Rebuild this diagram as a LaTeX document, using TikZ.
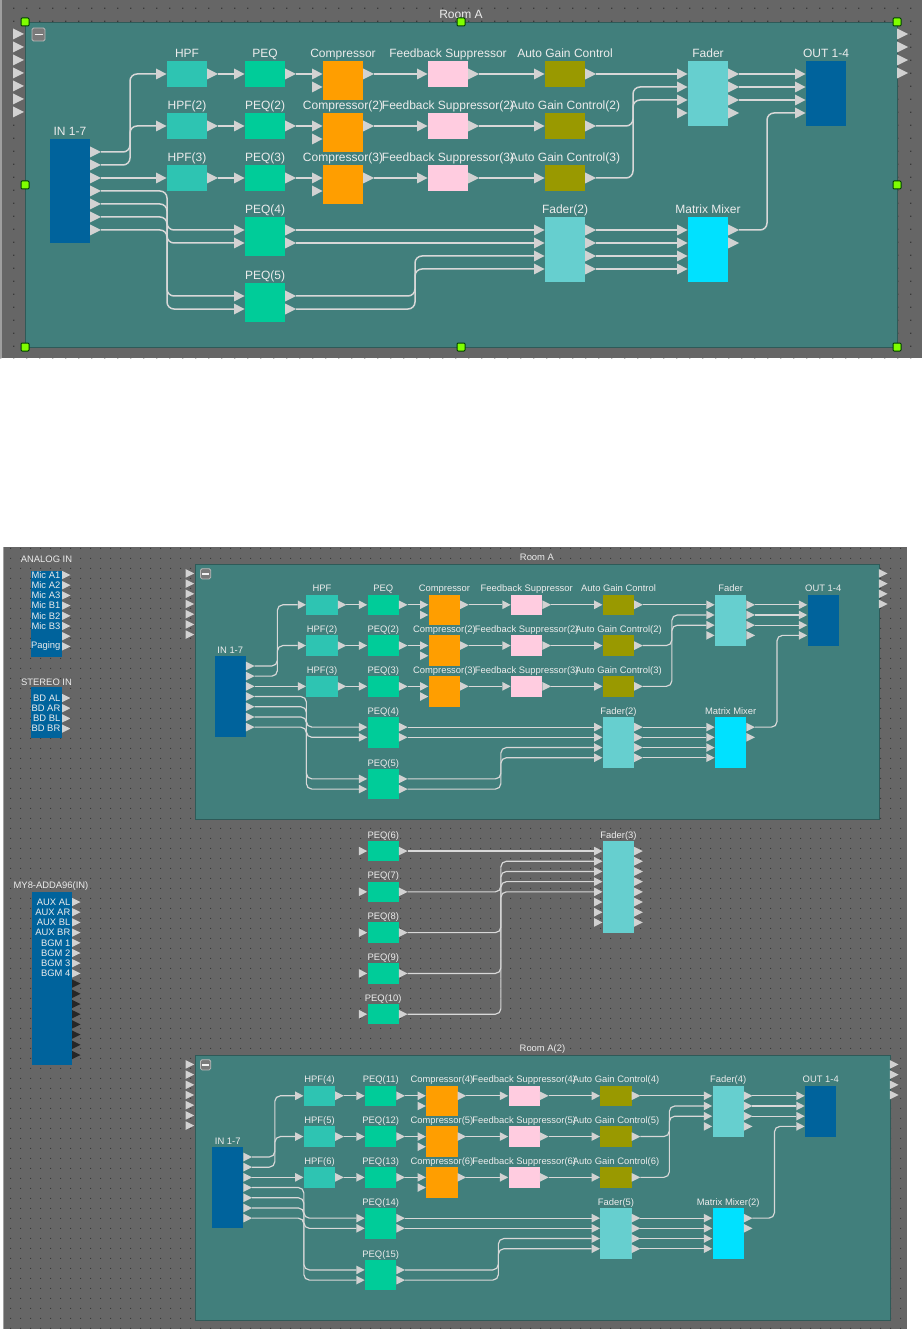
\documentclass[tikz,border=0pt]{standalone}
\usepackage{fontspec}
\setmainfont{Liberation Sans}
\usetikzlibrary{patterns}
\definecolor{bgc}{HTML}{666666}
\definecolor{dotc}{HTML}{3A3A3A}
\definecolor{roomc}{HTML}{417F7C}
\definecolor{roomedgec}{HTML}{2E5A58}
\definecolor{inblue}{HTML}{00639C}
\definecolor{hpfc}{HTML}{2EC4B2}
\definecolor{peqc}{HTML}{00CC99}
\definecolor{compc}{HTML}{FF9E00}
\definecolor{fbsc}{HTML}{FFCCE0}
\definecolor{agcc}{HTML}{999900}
\definecolor{fadc}{HTML}{66CFCF}
\definecolor{mtxc}{HTML}{00E1FF}
\definecolor{portcol}{HTML}{D2D2D2}
\definecolor{txtc}{HTML}{ECECEC}
\definecolor{wirec}{HTML}{D8D8D8}
\definecolor{handlec}{HTML}{7FFF00}
\definecolor{btnc}{HTML}{7A7A7A}
\pgfdeclarepatternformonly{gdotstop}{\pgfpointorigin}{\pgfpoint{12.75pt}{12.75pt}}{\pgfpoint{12.75pt}{12.75pt}}%
  {\pgfpathrectangle{\pgfpoint{0pt}{0pt}}{\pgfpoint{1.4pt}{1.4pt}}\pgfusepath{fill}}
\pgfdeclarepatternformonly{gdotsbot}{\pgfpointorigin}{\pgfpoint{10pt}{10pt}}{\pgfpoint{10pt}{10pt}}%
  {\pgfpathrectangle{\pgfpoint{0pt}{0pt}}{\pgfpoint{1.2pt}{1.2pt}}\pgfusepath{fill}}
\def\rs{1}
\tikzset{
  blk/.style={rectangle, inner sep=0pt, outer sep=0pt, minimum width=40, anchor=north west},
  lbl/.style={font=\fontsize{12}{13}\selectfont, text=txtc, inner sep=0.6pt, text height=8.8pt, text depth=2.6pt},
  iolbl/.style={font=\fontsize{9.4}{10}\selectfont, text=txtc, inner sep=0pt},
  wire/.style={draw=wirec, line width={\rs*1.5pt}, rounded corners={\rs*7pt}},
  porttri/.style={fill=portcol},
  blacktri/.style={fill=black!85},
  roomedge/.style={draw=roomedgec, line width=0.7pt},
  btn/.style={rectangle, minimum size=13, inner sep=0pt, fill=btnc, draw=gray!55!white, line width=0.8pt, rounded corners=1.5pt},
  btnminus/.style={draw=white!90!gray, line width=1.6pt},
  handle/.style={rectangle, minimum size=8, inner sep=0pt, fill=handlec, draw=black!75!green, line width=1pt, rounded corners=1pt},
  iob/.style={rectangle, inner sep=0pt, outer sep=0pt, fill=inblue, anchor=north west}
}
% #1 name, #2 x, #3 y, #4 rows, #5 inputs, #6 outputs, #7 colour, #8 label
\newcommand\blk[8]{%
  \node[blk, fill=#7, minimum height={13*(#4+1)}, label={[lbl]above:#8}] (#1) at (#2,#3) {};
  \ifnum#5>0
    \foreach \k in {1,...,#5}{%
      \fill[porttri] ({#2-11},{#3+13*\k-5.5}) -- ({#2-0.5},{#3+13*\k}) -- ({#2-11},{#3+13*\k+5.5}) -- cycle;
      \coordinate (#1-i\k) at ({#2-11},{#3+13*\k});}%
  \fi
  \ifnum#6>0
    \foreach \k in {1,...,#6}{%
      \fill[porttri] ({#2+40},{#3+13*\k-5.5}) -- ({#2+51},{#3+13*\k}) -- ({#2+40},{#3+13*\k+5.5}) -- cycle;
      \coordinate (#1-o\k) at ({#2+51},{#3+13*\k});}%
  \fi}
% #1 prefix, #2 x, #3 y, #4 scale, #5 width, #6 height, #7 content dx, #8 title
\newcommand\drawroom[8]{%
\begin{scope}[shift={(#2,#3)},scale=#4,transform shape]
  \def\rs{#4}%
  \fill[roomc] (0,0) rectangle (#5,#6);
  \draw[roomedge] (0,0) rectangle (#5,#6);
  \node[lbl] (#1-title) at ({#5/2},-7) {#8};
  \node[btn] (#1-btn) at (13.5,12.5) {};
  \draw[btnminus] (9.5,12.5) -- (17.5,12.5);
  \foreach \k in {0,...,6}{\fill[porttri] (-12,{12+13*\k-5.5}) -- (-1,{12+13*\k}) -- (-12,{12+13*\k+5.5}) -- cycle;}
  \foreach \k in {0,...,3}{\fill[porttri] (#5,{12+13*\k-5.5}) -- ({#5+11},{12+13*\k}) -- (#5,{12+13*\k+5.5}) -- cycle;}
  \begin{scope}[shift={(#7,0)}]
    \blk{#1-in}{25}{117}{7}{0}{7}{inblue}{IN 1-7}
    \blk{#1-h1}{142}{39}{1}{1}{1}{hpfc}{\lHa}
    \blk{#1-h2}{142}{91}{1}{1}{1}{hpfc}{\lHb}
    \blk{#1-h3}{142}{143}{1}{1}{1}{hpfc}{\lHc}
    \blk{#1-p1}{220}{39}{1}{1}{1}{peqc}{\lPa}
    \blk{#1-p2}{220}{91}{1}{1}{1}{peqc}{\lPb}
    \blk{#1-p3}{220}{143}{1}{1}{1}{peqc}{\lPc}
    \blk{#1-c1}{298}{39}{2}{2}{1}{compc}{\lCa}
    \blk{#1-c2}{298}{91}{2}{2}{1}{compc}{\lCb}
    \blk{#1-c3}{298}{143}{2}{2}{1}{compc}{\lCc}
    \blk{#1-f1}{403}{39}{1}{1}{1}{fbsc}{\lFa}
    \blk{#1-f2}{403}{91}{1}{1}{1}{fbsc}{\lFb}
    \blk{#1-f3}{403}{143}{1}{1}{1}{fbsc}{\lFc}
    \blk{#1-a1}{520}{39}{1}{1}{1}{agcc}{\lAa}
    \blk{#1-a2}{520}{91}{1}{1}{1}{agcc}{\lAb}
    \blk{#1-a3}{520}{143}{1}{1}{1}{agcc}{\lAc}
    \blk{#1-fd}{663}{39}{4}{4}{4}{fadc}{\lDa}
    \blk{#1-out}{781}{39}{4}{4}{0}{inblue}{OUT 1-4}
    \blk{#1-p4}{220}{195}{2}{2}{2}{peqc}{\lPd}
    \blk{#1-p5}{220}{261}{2}{2}{2}{peqc}{\lPe}
    \blk{#1-fd2}{520}{195}{4}{4}{4}{fadc}{\lDb}
    \blk{#1-mx}{663}{195}{4}{4}{2}{mtxc}{\lMx}
    \coordinate (#1-va) at (105,0);
    \coordinate (#1-vb) at (142,0);
    \coordinate (#1-vc) at (608,0);
    \coordinate (#1-vd) at (390,0);
    \coordinate (#1-ve) at (742,0);
    \draw[wire] (#1-in-o1) -- (#1-in-o1 -| #1-va) -- (#1-h1-i1 -| #1-va) -- (#1-h1-i1);
    \draw[wire] (#1-in-o2) -- (#1-in-o2 -| #1-va) -- (#1-h2-i1 -| #1-va) -- (#1-h2-i1);
    \draw[wire] (#1-in-o3) -- (#1-h3-i1);
    \draw[wire] (#1-in-o4) -- (#1-in-o4 -| #1-vb) -- (#1-p4-i1 -| #1-vb) -- (#1-p4-i1);
    \draw[wire] (#1-in-o5) -- (#1-in-o5 -| #1-vb) -- (#1-p4-i2 -| #1-vb) -- (#1-p4-i2);
    \draw[wire] (#1-in-o6) -- (#1-in-o6 -| #1-vb) -- (#1-p5-i1 -| #1-vb) -- (#1-p5-i1);
    \draw[wire] (#1-in-o7) -- (#1-in-o7 -| #1-vb) -- (#1-p5-i2 -| #1-vb) -- (#1-p5-i2);
    \foreach \r in {1,2,3}{%
      \draw[wire] (#1-h\r-o1) -- (#1-p\r-i1);
      \draw[wire] (#1-p\r-o1) -- (#1-c\r-i1);
      \draw[wire] (#1-c\r-o1) -- (#1-f\r-i1);
      \draw[wire] (#1-f\r-o1) -- (#1-a\r-i1);
      \draw[wire] (#1-fd-o\r) -- (#1-out-i\r);}
    \draw[wire] (#1-a1-o1) -- (#1-fd-i1);
    \draw[wire] (#1-a2-o1) -- (#1-a2-o1 -| #1-vc) -- (#1-fd-i2 -| #1-vc) -- (#1-fd-i2);
    \draw[wire] (#1-a3-o1) -- (#1-a3-o1 -| #1-vc) -- (#1-fd-i3 -| #1-vc) -- (#1-fd-i3);
    \draw[wire] (#1-p4-o1) -- (#1-fd2-i1);
    \draw[wire] (#1-p4-o2) -- (#1-fd2-i2);
    \draw[wire] (#1-p5-o1) -- (#1-p5-o1 -| #1-vd) -- (#1-fd2-i3 -| #1-vd) -- (#1-fd2-i3);
    \draw[wire] (#1-p5-o2) -- (#1-p5-o2 -| #1-vd) -- (#1-fd2-i4 -| #1-vd) -- (#1-fd2-i4);
    \foreach \r in {1,...,4}{\draw[wire] (#1-fd2-o\r) -- (#1-mx-i\r);}
    \draw[wire] (#1-mx-o1) -- (#1-mx-o1 -| #1-ve) -- (#1-out-i4 -| #1-ve) -- (#1-out-i4);
  \end{scope}
\end{scope}}
\newcommand\setlabelsA{%
  \def\lHa{HPF}\def\lHb{HPF(2)}\def\lHc{HPF(3)}%
  \def\lPa{PEQ}\def\lPb{PEQ(2)}\def\lPc{PEQ(3)}\def\lPd{PEQ(4)}\def\lPe{PEQ(5)}%
  \def\lCa{Compressor}\def\lCb{Compressor(2)}\def\lCc{Compressor(3)}%
  \def\lFa{Feedback Suppressor}\def\lFb{Feedback Suppressor(2)}\def\lFc{Feedback Suppressor(3)}%
  \def\lAa{Auto Gain Control}\def\lAb{Auto Gain Control(2)}\def\lAc{Auto Gain Control(3)}%
  \def\lDa{Fader}\def\lDb{Fader(2)}\def\lMx{Matrix Mixer}}
\newcommand\setlabelsB{%
  \def\lHa{HPF(4)}\def\lHb{HPF(5)}\def\lHc{HPF(6)}%
  \def\lPa{PEQ(11)}\def\lPb{PEQ(12)}\def\lPc{PEQ(13)}\def\lPd{PEQ(14)}\def\lPe{PEQ(15)}%
  \def\lCa{Compressor(4)}\def\lCb{Compressor(5)}\def\lCc{Compressor(6)}%
  \def\lFa{Feedback Suppressor(4)}\def\lFb{Feedback Suppressor(5)}\def\lFc{Feedback Suppressor(6)}%
  \def\lAa{Auto Gain Control(4)}\def\lAb{Auto Gain Control(5)}\def\lAc{Auto Gain Control(6)}%
  \def\lDa{Fader(4)}\def\lDb{Fader(5)}\def\lMx{Matrix Mixer(2)}}
\begin{document}
\begin{tikzpicture}[x=1pt,y=-1pt]
\useasboundingbox (0,0) rectangle (922,1329);
\fill[white] (0,0) rectangle (922,1329);
% ---------- top screenshot ----------
\fill[bgc] (0,0) rectangle (922,358);
\fill[pattern=gdotstop, pattern color=dotc] (0,0) rectangle (922,358);
\fill[gray!75!white] (0,0) rectangle (2,358);
\setlabelsA
\drawroom{T}{25}{22}{1}{872}{325}{0}{Room A}
\foreach \p [count=\n] in {(25,22),(461,22),(897,22),(25,185),(897,185),(25,347),(461,347),(897,347)}
  {\node[handle] (hd\n) at \p {};}
% ---------- bottom screenshot ----------
\fill[bgc] (3,547) rectangle (907,1329);
\fill[pattern=gdotsbot, pattern color=dotc] (3,547) rectangle (907,1329);
\fill[gray!75!white] (3,547) rectangle (4,1329);
\setlabelsA
\drawroom{B}{195}{564}{0.78431}{872}{326}{0}{Room A}
\setlabelsB
\drawroom{C}{195}{1055}{0.78431}{886}{338}{-3.2}{Room A(2)}
% middle PEQs and Fader(3)
\begin{scope}[shift={(195,564)},scale=0.78431,transform shape]
  \def\rs{0.78431}
  \blk{M-p6}{220}{353}{1}{1}{1}{peqc}{PEQ(6)}
  \blk{M-p7}{220}{405}{1}{1}{1}{peqc}{PEQ(7)}
  \blk{M-p8}{220}{457}{1}{1}{1}{peqc}{PEQ(8)}
  \blk{M-p9}{220}{509}{1}{1}{1}{peqc}{PEQ(9)}
  \blk{M-p10}{220}{561}{1}{1}{1}{peqc}{PEQ(10)}
  \blk{M-f3}{520}{353}{8}{8}{8}{fadc}{Fader(3)}
  \coordinate (M-v) at (390,0);
  \draw[wire] (M-p6-o1) -- (M-f3-i1);
  \draw[wire] (M-p7-o1) -- (M-p7-o1 -| M-v) -- (M-f3-i2 -| M-v) -- (M-f3-i2);
  \draw[wire] (M-p8-o1) -- (M-p8-o1 -| M-v) -- (M-f3-i3 -| M-v) -- (M-f3-i3);
  \draw[wire] (M-p9-o1) -- (M-p9-o1 -| M-v) -- (M-f3-i4 -| M-v) -- (M-f3-i4);
  \draw[wire] (M-p10-o1) -- (M-p10-o1 -| M-v) -- (M-f3-i5 -| M-v) -- (M-f3-i5);
\end{scope}
% ANALOG IN
\node[iob, minimum width=31, minimum height=86] (ain) at (31,571) {};
\node[iolbl] (ain-t) at (46.5,559) {ANALOG IN};
\foreach \t [count=\k from 0] in {Mic A1,Mic A2,Mic A3,Mic B1,Mic B2,Mic B3,{},Paging}{%
  \fill[porttri] (62,{575+10.2*\k-4.2}) -- (70.5,{575+10.2*\k}) -- (62,{575+10.2*\k+4.2}) -- cycle;
  \node[iolbl, anchor=east] (ain-l\k) at (60.5,{575+10.2*\k}) {\t};}
% STEREO IN
\node[iob, minimum width=31, minimum height=51] (sin) at (31,687) {};
\node[iolbl] (sin-t) at (46.5,682) {STEREO IN};
\foreach \t [count=\k from 0] in {BD AL,BD AR,BD BL,BD BR}{%
  \fill[porttri] (62,{698+10.2*\k-4.2}) -- (70.5,{698+10.2*\k}) -- (62,{698+10.2*\k+4.2}) -- cycle;
  \node[iolbl, anchor=east] (sin-l\k) at (60.5,{698+10.2*\k}) {\t};}
% MY8-ADDA96(IN)
\node[iob, minimum width=40, minimum height=173] (my8) at (32,892) {};
\node[iolbl] (my8-t) at (51,886) {MY8-ADDA96(IN)};
\foreach \t [count=\k from 0] in {AUX AL,AUX AR,AUX BL,AUX BR,BGM 1,BGM 2,BGM 3,BGM 4}{%
  \fill[porttri] (72,{902+10.2*\k-4.2}) -- (80.5,{902+10.2*\k}) -- (72,{902+10.2*\k+4.2}) -- cycle;
  \node[iolbl, anchor=east] (my8-l\k) at (70.5,{902+10.2*\k}) {\t};}
\foreach \k in {8,...,15}{%
  \fill[blacktri] (72,{902+10.2*\k-4.2}) -- (80.5,{902+10.2*\k}) -- (72,{902+10.2*\k+4.2}) -- cycle;}
\end{tikzpicture}
\end{document}
